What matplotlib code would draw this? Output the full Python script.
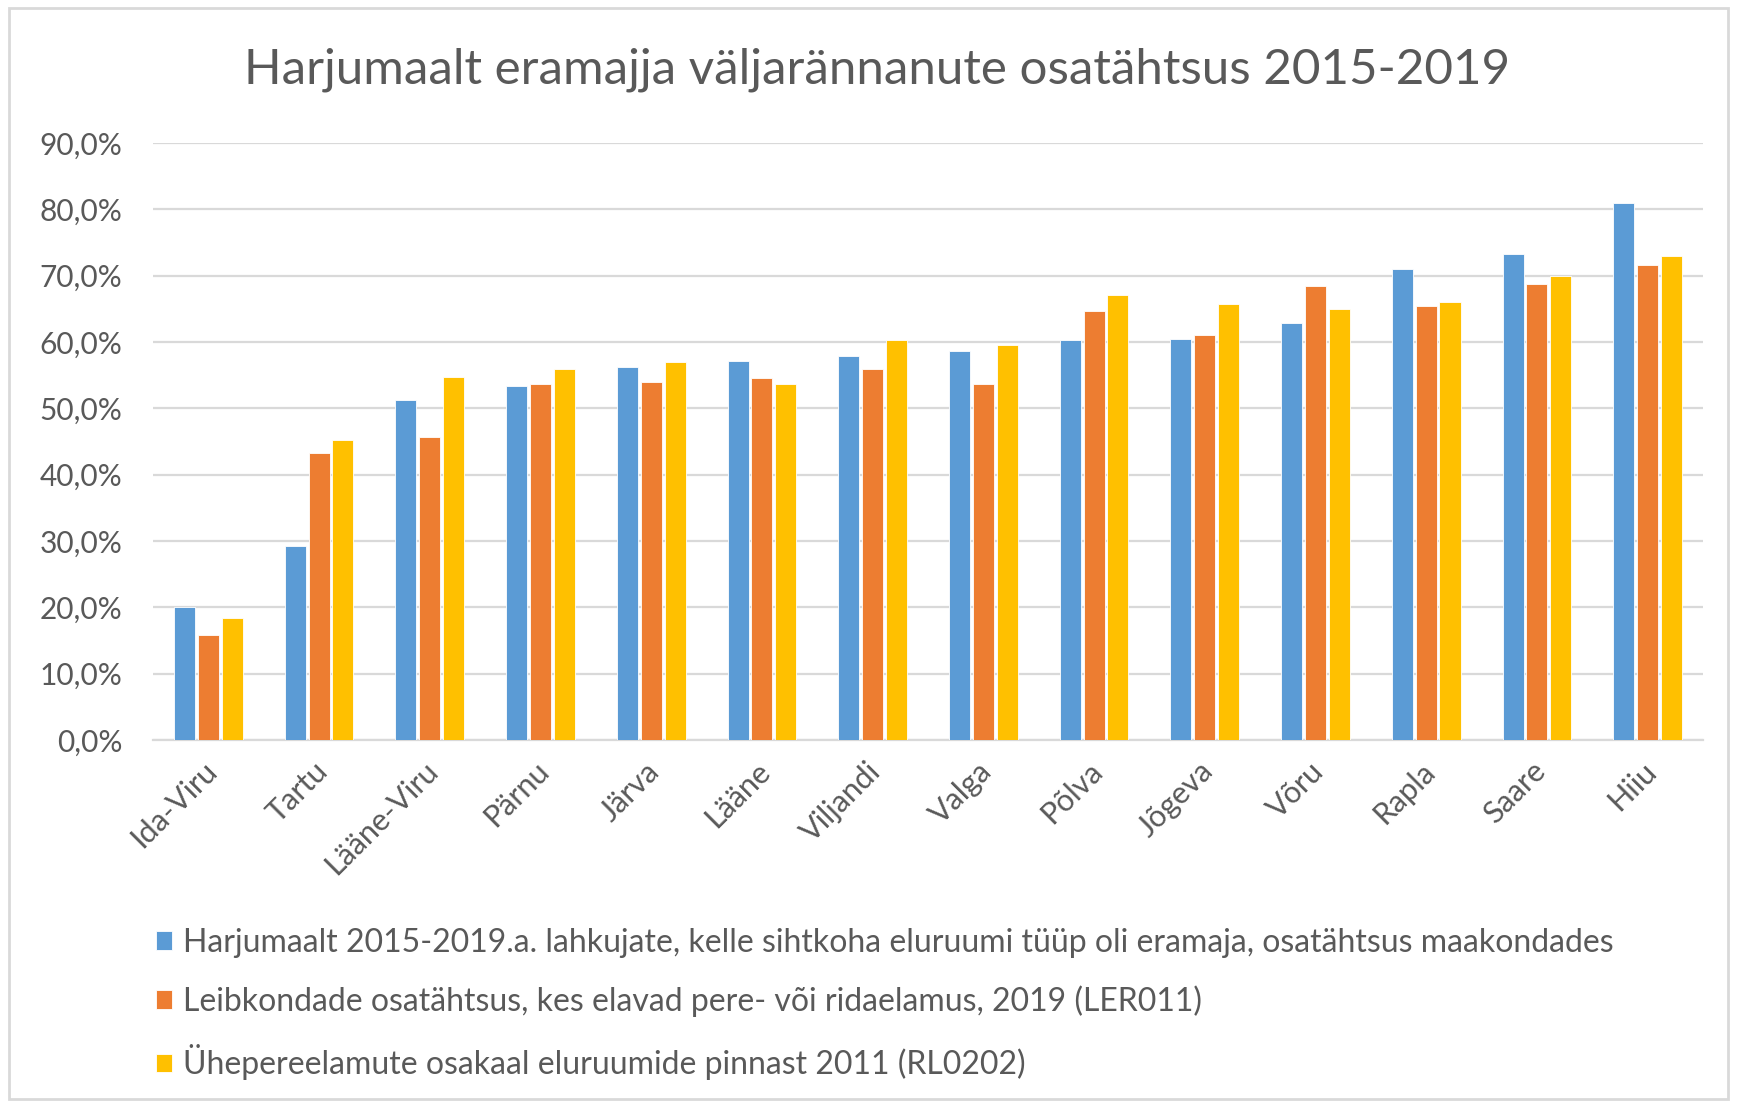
import matplotlib.pyplot as plt
import numpy as np
from matplotlib.patches import Rectangle
from matplotlib.ticker import FuncFormatter
from matplotlib.transforms import ScaledTranslation

# Andmed
maakonnad = ['Ida-Viru', 'Tartu', 'Lääne-Viru', 'Pärnu', 'Järva', 'Lääne', 'Viljandi',
             'Valga', 'Põlva', 'Jõgeva', 'Võru', 'Rapla', 'Saare', 'Hiiu']
lahkujad = [20.0, 29.3, 51.3, 53.4, 56.3, 57.1, 57.9, 58.7, 60.3, 60.5, 62.9, 71.0, 73.2, 81.0]
leibkonnad = [15.8, 43.2, 45.7, 53.7, 53.9, 54.5, 55.9, 53.7, 64.7, 61.0, 68.4, 65.5, 68.7, 71.6]
yhepere = [18.4, 45.2, 54.7, 56.0, 57.0, 53.7, 60.3, 59.5, 67.1, 65.8, 65.0, 66.1, 70.0, 72.9]

seeriad = [
    'Harjumaalt 2015-2019.a. lahkujate, kelle sihtkoha eluruumi tüüp oli eramaja, osatähtsus maakondades',
    'Leibkondade osatähtsus, kes elavad pere- või ridaelamus, 2019 (LER011)',
    'Ühepereelamute osakaal eluruumide pinnast 2011 (RL0202)',
]
varvid = ['#5B9BD5', '#ED7D31', '#FFC000']
tekst = '#595959'
grid = '#D9D9D9'

plt.rcParams['font.family'] = ['Lato', 'DejaVu Sans']

W, H = 1737, 1105
fig = plt.figure(figsize=(W / 100, H / 100), dpi=100)

# välimine raam
fig.patches.append(Rectangle((9 / W, 6 / H), 1 - 18 / W, 1 - 14 / H, transform=fig.transFigure,
                             fill=False, edgecolor=grid, linewidth=2))

ax = fig.add_axes([153 / W, 1 - 740 / H, (1703 - 153) / W, (740 - 143) / H])

x = np.arange(len(maakonnad))
laius = 0.19
samm = 0.215
for i, (vals, c) in enumerate(zip([lahkujad, leibkonnad, yhepere], varvid)):
    ax.bar(x + (i - 1) * samm, vals, laius, color=c, edgecolor='white', linewidth=0.6,
           label=seeriad[i], zorder=3)

ax.set_xlim(-0.5, len(maakonnad) - 0.5)
ax.set_ylim(0, 90)
ax.set_yticks(np.arange(0, 91, 10))
ax.yaxis.set_major_formatter(FuncFormatter(lambda v, p: f'{v:.1f}%'.replace('.', ',')))
ax.grid(axis='y', color=grid, linewidth=1.6, zorder=0)
for s in ['top', 'right', 'left']:
    ax.spines[s].set_visible(False)
ax.spines['bottom'].set_color(grid)
ax.spines['bottom'].set_linewidth(1.6)
ax.tick_params(axis='both', length=0, colors=tekst)
ax.tick_params(axis='y', pad=22, labelsize=21.5)
ax.set_xticks(x)
ax.set_xticklabels(maakonnad, rotation=45, ha='right', rotation_mode='anchor')
ax.tick_params(axis='x', pad=12, labelsize=22)
nihe = ScaledTranslation(-6 / 100, 0, fig.dpi_scale_trans)
for lbl in ax.get_xticklabels():
    lbl.set_transform(lbl.get_transform() + nihe)

fig.text(0.505, 1 - 70 / H, 'Harjumaalt eramajja väljarännanute osatähtsus 2015-2019',
         ha='center', va='center', fontsize=35.5, color=tekst)

leg = fig.legend(loc='upper left', bbox_to_anchor=(143 / W, 1 - 915 / H), ncol=1, frameon=False,
                 fontsize=23, labelcolor=tekst, handlelength=0.5, handleheight=0.5,
                 handletextpad=0.35, labelspacing=0.86, borderaxespad=0)

fig.savefig('out.png', dpi=100)
